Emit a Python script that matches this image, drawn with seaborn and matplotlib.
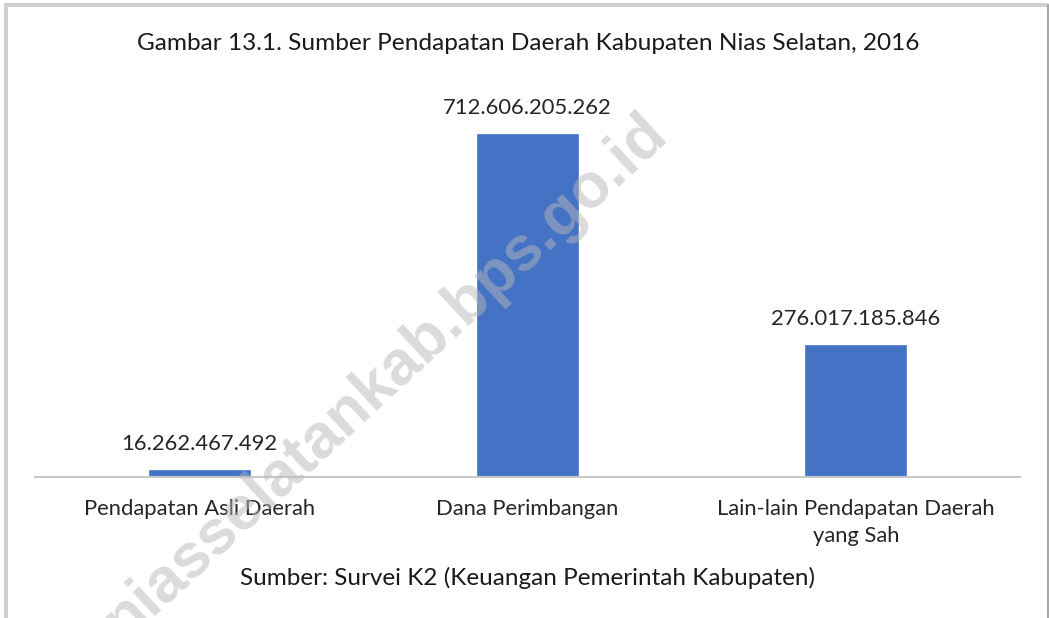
import pandas as pd
import numpy as np
import matplotlib.pyplot as plt
import seaborn as sns
from matplotlib.lines import Line2D

categories = ['Pendapatan Asli Daerah', 'Dana Perimbangan', 'Lain-lain Pendapatan Daerah\nyang Sah']
values = [16262467492, 712606205262, 276017185846]
value_labels = ['16.262.467.492', '712.606.205.262', '276.017.185.846']

title = 'Gambar 13.1. Sumber Pendapatan Daerah Kabupaten Nias Selatan, 2016'
source = 'Sumber: Survei K2 (Keuangan Pemerintah Kabupaten)'
watermark = 'niasselatankab.bps.go.id'

df = pd.DataFrame({'kategori': categories, 'nilai': values})

sns.set_theme(style='white')
plt.rcParams['font.family'] = ['Lato', 'DejaVu Sans']

fig = plt.figure(figsize=(10.49, 6.18), dpi=100)
ax = fig.add_axes([35 / 1049, (618 - 477) / 618, 985 / 1049, 386 / 618])

sns.barplot(data=df, x='kategori', y='nilai', color='#4472C4', width=0.314,
            saturation=1, ax=ax)
ax.set_xlim(-0.5, 2.5)
ax.set_ylim(0, 800e9)

for i, v in enumerate(values):
    ax.annotate(value_labels[i], (i, v), xytext=(0, 11), textcoords='offset points',
                ha='center', va='bottom', fontsize=15.8, color='#262626')

for s in ['top', 'right', 'left']:
    ax.spines[s].set_visible(False)
ax.spines['bottom'].set_color('#c8c8c8')
ax.spines['bottom'].set_linewidth(1.5)
ax.set_yticks([])
ax.set_xlabel('')
ax.set_ylabel('')
ax.tick_params(axis='x', length=0, pad=16, labelsize=15.8, labelcolor='#262626')
ax.set_xticks(range(3))
ax.set_xticklabels(categories, linespacing=1.45)

fig.text(528 / 1049, 1 - 44 / 618, title, ha='center', va='center', fontsize=17.6, color='#1a1a1a')
fig.text(528 / 1049, 1 - 578 / 618, source, ha='center', va='center', fontsize=17.5, color='#1a1a1a')

# watermark
fig.text(386 / 1049, 1 - 377 / 618, watermark, ha='center', va='center', rotation=42.8,
         fontsize=45, fontweight='bold', color='#b8b8b8', alpha=0.5,
         family=['Liberation Sans', 'DejaVu Sans'], zorder=10)

# frame around the picture
fig.add_artist(Line2D([6 / 1049, 1047 / 1049], [1 - 5 / 618, 1 - 5 / 618], transform=fig.transFigure,
                      color='#d0d0d0', lw=3))
fig.add_artist(Line2D([6 / 1049, 6 / 1049], [0, 1 - 5 / 618], transform=fig.transFigure,
                      color='#d0d0d0', lw=3))
fig.add_artist(Line2D([1047.5 / 1049, 1047.5 / 1049], [0, 1 - 5 / 618], transform=fig.transFigure,
                      color='#a8a8a8', lw=1.5))

fig.savefig('out.png', dpi=100, facecolor='white')
